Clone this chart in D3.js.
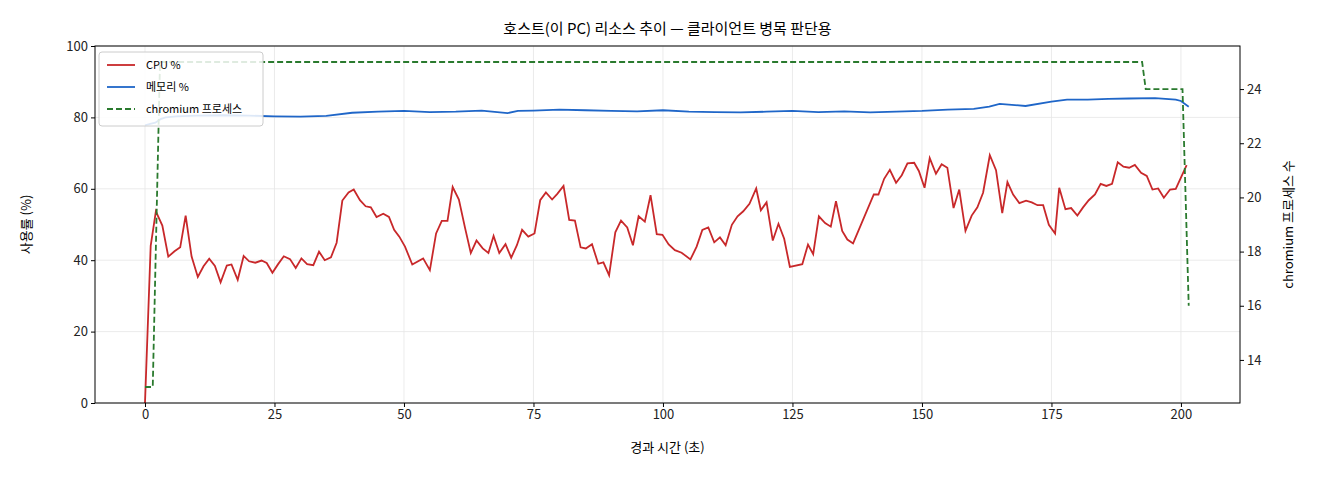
<!DOCTYPE html>
<html><head><meta charset="utf-8">
<script src="https://cdn.jsdelivr.net/npm/d3@7"></script>
<style>body{margin:0;background:#fff}text{font-family:"Noto Sans CJK KR","DejaVu Sans",sans-serif}</style>
</head><body>
<script>
// CPU samples (seconds, %)
var cpuTime = [0,1.1,2.1,3.35,4.5,5.7,6.8,7.85,9.0,10.2,11.3,12.4,13.5,14.6,15.8,16.7,17.9,19.05,20.1,21.3,22.5,23.5,24.6,25.7,26.8,28,29.1,30.2,31.3,32.5,33.6,34.7,35.9,37,38.1,39.3,40.3,41.5,42.6,43.6,44.7,46,47.1,48.1,49.1,50.2,51.6,53.7,55.0,56.2,57.3,58.4,59.4,60.6,61.8,62.9,64.0,65.2,66.3,67.3,68.4,69.6,70.7,71.8,72.8,74.0,75.2,76.3,77.4,78.6,79.6,80.8,81.9,83.0,84.1,85.1,86.3,87.5,88.5,89.6,90.8,91.9,93.1,94.2,95.3,96.5,97.6,98.8,99.9,101.1,102.3,103.6,105.3,106.5,107.6,108.75,109.9,111,112.1,113.3,114.4,115.5,116.7,118,118.9,120,121.2,122.3,123.4,124.5,126.9,128,129,130.1,131.3,132.4,133.4,134.6,135.6,136.7,140.7,141.6,142.7,143.8,145,146.1,147.2,148.5,149.4,150.5,151.5,152.7,153.8,154.9,156.1,157.2,158.4,159.6,160.7,161.8,163.1,164.3,165.5,166.5,167.6,168.8,170.1,171.2,172.3,173.4,174.5,175.7,176.5,177.7,178.8,180,181.1,182.2,183.4,184.5,185.6,186.7,187.8,188.9,190,191.1,192.3,193.4,194.5,195.6,196.7,197.9,199,201.1];
var cpuPct = [0,44,53.7,49.7,41,42.5,43.6,52.5,41,35.3,38.3,40.4,38.4,33.8,38.5,38.8,34.5,41.2,39.7,39.3,39.9,39.2,36.5,38.9,41.1,40.3,37.8,40.5,38.9,38.6,42.4,40,40.8,44.9,56.7,59,59.8,56.8,55.1,54.8,52.1,53,52.1,48.5,46.6,43.8,38.8,40.5,37.2,47.5,51,51,60.5,57,49,42,45.5,43.3,42,46.8,42,44.5,40.7,44.2,48.5,46.6,47.5,56.8,59,57,58.6,60.8,51.3,51.1,43.6,43.3,44.5,39,39.4,35.8,47.8,51.1,49.2,44.2,52.3,50.8,58.2,47.3,47.1,44.4,42.8,42.1,40.2,43.8,48.5,49.2,45,46.4,44.2,49.9,52.3,53.7,55.8,60.1,54,56.2,45.5,50.2,46,38.1,38.9,44.4,41.7,52.3,50.4,49.4,56.5,48.2,45.8,44.7,58.4,58.4,62.8,65.3,61.7,63.8,67.1,67.3,65,60.3,68.6,64.2,66.9,65.9,54.6,59.8,48.2,52.5,54.8,58.9,69.4,65.2,53.2,61.9,58.4,56,56.7,56.2,55.4,55.4,49.9,47.5,60.3,54.3,54.6,52.5,54.8,56.8,58.4,61.4,60.8,61.4,67.4,66.2,65.9,66.7,64.5,63.6,59.8,60.1,57.5,59.8,60,66.6];
// memory samples
var memTime = [0,1,2,3,4,6,10,15,20,25,30,35,40,45,50,55,60,65,70,72,75,80,85,90,95,100,105,110,115,120,125,130,135,140,145,150,155,160,163,165,170,175,178,182,186,190,195,199,200,201.5];
var memPct = [77.8,78.2,78.5,79.5,80,80.3,80.5,80.6,80.5,80.3,80.2,80.4,81.3,81.6,81.8,81.5,81.6,81.9,81.2,81.8,81.9,82.2,82,81.8,81.7,82,81.6,81.5,81.4,81.6,81.8,81.5,81.7,81.4,81.6,81.8,82.2,82.4,83,83.8,83.2,84.4,85,85,85.2,85.3,85.4,85,84.6,83];
// chromium process count
var chrTime = [0,1,1.5,2.9,192.5,193.2,200.3,201.5];
var chrCount = [13,13,13,25,25,24,24,16];
var leftTicks = [0,20,40,60,80,100];
var rightTicks = [14,16,18,20,22,24];
var xTicks = [0,25,50,75,100,125,150,175,200];

var W = 1320, H = 480, L = 95, R = 1240, T = 46, B = 403;
var svg = d3.select('body').append('svg').attr('width', W).attr('height', H);
var x = d3.scaleLinear().domain([-9.65, 211.4]).range([L, R]);
var y = d3.scaleLinear().domain([0, 100]).range([B, T]);
var y2 = d3.scaleLinear().domain([12.41, 25.59]).range([B, T]);

// grid
svg.selectAll('.gx').data(xTicks).enter().append('line')
  .attr('x1', d => x(d)).attr('x2', d => x(d)).attr('y1', T).attr('y2', B)
  .attr('stroke', '#e6e6e6').attr('stroke-width', 0.8);
svg.selectAll('.gy').data(leftTicks).enter().append('line')
  .attr('x1', L).attr('x2', R).attr('y1', d => y(d)).attr('y2', d => y(d))
  .attr('stroke', '#e6e6e6').attr('stroke-width', 0.8);

function ln(ts, vs, sc) {
  return d3.line().x((d, i) => x(ts[i])).y(d => sc(d))(vs);
}
svg.append('path').attr('d', ln(memTime, memPct, y)).attr('fill', 'none').attr('stroke', '#1f66c8').attr('stroke-width', 1.8);
svg.append('path').attr('d', ln(cpuTime, cpuPct, y)).attr('fill', 'none').attr('stroke', '#c8282a').attr('stroke-width', 1.8);
svg.append('path').attr('d', ln(chrTime, chrCount, y2)).attr('fill', 'none').attr('stroke', '#2a7a2e').attr('stroke-width', 1.8).attr('stroke-dasharray', '6,3');

// axes
var ax = svg.append('g').attr('transform', 'translate(0,' + B + ')').call(d3.axisBottom(x).tickValues(xTicks).tickSize(4));
var ay = svg.append('g').attr('transform', 'translate(' + L + ',0)').call(d3.axisLeft(y).tickValues(leftTicks).tickSize(4));
var ay2 = svg.append('g').attr('transform', 'translate(' + R + ',0)').call(d3.axisRight(y2).tickValues(rightTicks).tickSize(4));
[ax, ay, ay2].forEach(g => { g.select('.domain').remove(); g.selectAll('text').attr('font-size', 13).attr('fill', '#222'); });
svg.append('rect').attr('x', L).attr('y', T).attr('width', R - L).attr('height', B - T).attr('fill', 'none').attr('stroke', '#000').attr('stroke-width', 1);

svg.append('text').attr('x', (L + R) / 2).attr('y', 34).attr('text-anchor', 'middle').attr('font-size', 15).text('호스트(이 PC) 리소스 추이 — 클라이언트 병목 판단용');
svg.append('text').attr('x', (L + R) / 2).attr('y', 452).attr('text-anchor', 'middle').attr('font-size', 13).text('경과 시간 (초)');
svg.append('text').attr('transform', 'translate(31,' + (T + B) / 2 + ') rotate(-90)').attr('text-anchor', 'middle').attr('font-size', 13).text('사용률 (%)');
svg.append('text').attr('transform', 'translate(1293,' + (T + B) / 2 + ') rotate(-90)').attr('text-anchor', 'middle').attr('font-size', 13).text('chromium 프로세스 수');

// legend
var lg = svg.append('g').attr('transform', 'translate(99,52)');
lg.append('rect').attr('width', 164).attr('height', 74).attr('rx', 3).attr('fill', 'rgba(255,255,255,0.85)').attr('stroke', '#ccc');
var items = [['CPU %', '#c8282a', null], ['메모리 %', '#1f66c8', null], ['chromium 프로세스', '#2a7a2e', '6,3']];
items.forEach((it, i) => {
  var yy = 13 + i * 22;
  lg.append('line').attr('x1', 8).attr('x2', 36).attr('y1', yy).attr('y2', yy).attr('stroke', it[1]).attr('stroke-width', 1.8).attr('stroke-dasharray', it[2]);
  lg.append('text').attr('x', 47).attr('y', yy + 4).attr('font-size', 11).text(it[0]);
});
</script>
</body></html>
